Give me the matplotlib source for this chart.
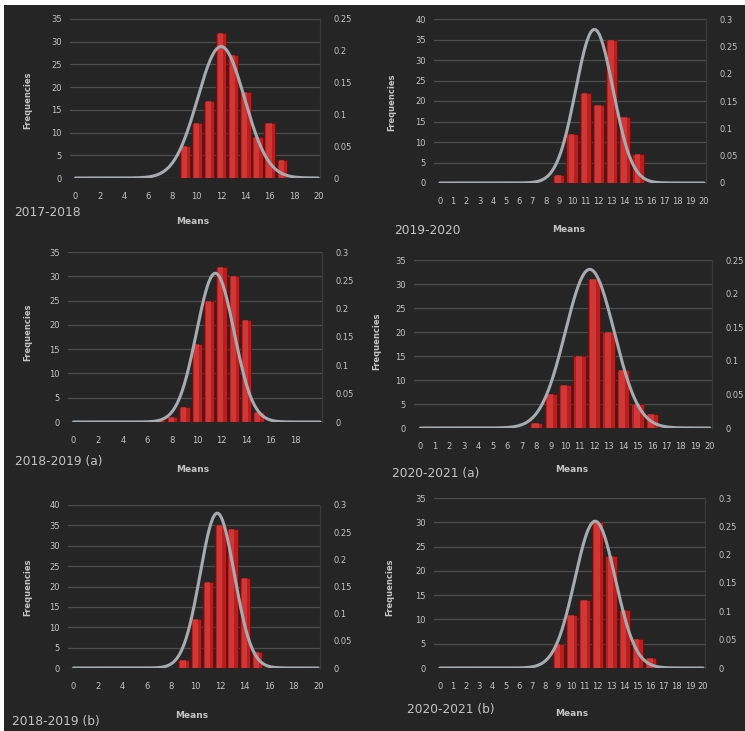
import numpy as np
import matplotlib
matplotlib.use("Agg")
import matplotlib.pyplot as plt
from matplotlib.patches import Rectangle

# ---- data ------------------------------------------------------------------
captions = ["2017-2018", "2019-2020", "2018-2019 (a)",
            "2020-2021 (a)", "2018-2019 (b)", "2020-2021 (b)"]

bins_1 = [9, 10, 11, 12, 13, 14, 15, 16, 17]
counts_1 = [7, 12, 17, 32, 27, 19, 9, 12, 4]

bins_2 = [9, 10, 11, 12, 13, 14, 15]
counts_2 = [2, 12, 22, 19, 35, 16, 7]

bins_3 = [7, 8, 9, 10, 11, 12, 13, 14, 15]
counts_3 = [0.5, 1, 3, 16, 25, 32, 30, 21, 2]

bins_4 = [8, 9, 10, 11, 12, 13, 14, 15, 16]
counts_4 = [1, 7, 9, 15, 31, 20, 12, 5, 3]

bins_5 = [9, 10, 11, 12, 13, 14, 15]
counts_5 = [2, 12, 21, 35, 34, 22, 4]

bins_6 = [9, 10, 11, 12, 13, 14, 15, 16]
counts_6 = [5, 11, 14, 30, 23, 12, 6, 2]

# fitted normal curve (mean, sd) of the means
fit_means = [12.0, 11.7, 11.5, 11.7, 11.75, 11.8]
fit_sds = [1.93, 1.42, 1.52, 1.69, 1.40, 1.54]

freq_max = [35, 40, 35, 35, 40, 35]
dens_max = [0.25, 0.3, 0.3, 0.25, 0.3, 0.3]
x_step = [2, 1, 2, 1, 2, 1]
x_last = [20, 20, 18, 20, 20, 20]

bins = [bins_1, bins_2, bins_3, bins_4, bins_5, bins_6]
counts = [counts_1, counts_2, counts_3, counts_4, counts_5, counts_6]

# ---- layout (pixels in the 745x731 picture) --------------------------------
W, H = 745, 731
BG = "#252525"
GRID = "#4d4d4d"
TXT = "#c4c4c4"
CURVE = "#a6abb0"

axes_px = [(70, 19, 320, 178), (434, 19, 706, 183),
           (68, 252, 322, 422), (414, 260, 712, 428),
           (68, 505, 320, 668), (434, 498, 705, 668)]
caption_px = [(14, 213), (394, 230), (15, 461), (392, 473), (12, 721), (407, 710)]
means_px = [(193, 222), (569, 230), (193, 469), (572, 470), (192, 715), (572, 713)]
freq_px = [(28, 100), (392, 102), (28, 332), (377, 341), (28, 587), (390, 587)]


def fx(x):
    return x / W


def fy(y):
    return 1 - y / H


def normal_pdf(x, mu, sd):
    return np.exp(-0.5 * ((x - mu) / sd) ** 2) / (sd * np.sqrt(2 * np.pi))


fig = plt.figure(figsize=(W / 100, H / 100), dpi=100, facecolor=BG)

# white scan border along the top and left edges
fig.patches.append(Rectangle((0, fy(5)), 1, 5 / H, transform=fig.transFigure,
                             facecolor="white", edgecolor="none", zorder=5))
fig.patches.append(Rectangle((0, 0), 4 / W, 1, transform=fig.transFigure,
                             facecolor="white", edgecolor="none", zorder=5))

for i in range(6):
    x0, y0, x1, y1 = axes_px[i]
    ax = fig.add_axes([fx(x0), fy(y1), fx(x1 - x0), (y1 - y0) / H])
    ax.set_facecolor(BG)
    ax2 = ax.twinx()

    # histogram bars with a lighter centre stripe
    ax.bar(bins[i], counts[i], width=0.85, color="#bb1d1d",
           edgecolor="#6a0a0a", linewidth=0.5, zorder=2)
    ax.bar(np.array(bins[i]) - 0.05, counts[i], width=0.42, color="#e35050",
           alpha=0.5, linewidth=0, zorder=2)

    xs = np.linspace(0, 20, 300)
    ax2.plot(xs, normal_pdf(xs, fit_means[i], fit_sds[i]), color=CURVE,
             lw=2.2, solid_capstyle="round", zorder=3)

    ax.set_xlim(-0.45, 20.15)
    ax.set_ylim(0, freq_max[i])
    ax2.set_ylim(0, dens_max[i])
    ax.set_xticks(np.arange(0, x_last[i] + 1, x_step[i]))
    ax.set_yticks(np.arange(0, freq_max[i] + 1, 5))
    dticks = np.round(np.arange(0, dens_max[i] + 0.001, 0.05), 2)
    ax2.set_yticks(dticks)
    ax2.set_yticklabels(["0" if t == 0 else f"{t:g}" for t in dticks])

    ax.yaxis.grid(True, color=GRID, lw=0.9)
    ax.set_axisbelow(True)
    for a in (ax, ax2):
        for s in ("top", "left", "bottom"):
            a.spines[s].set_visible(False)
        a.spines["right"].set_color("#3a3a3a")
        a.tick_params(length=0, colors=TXT, labelsize=6)
    ax.tick_params(axis="x", pad=10)
    ax.tick_params(axis="y", pad=6)
    ax2.tick_params(axis="y", pad=10)
    ax2.set_zorder(ax.get_zorder() + 1)
    ax2.patch.set_visible(False)

    cx, cy = caption_px[i]
    fig.text(fx(cx), fy(cy), captions[i], color=TXT, fontsize=8.8,
             ha="left", va="center")
    mx, my = means_px[i]
    fig.text(fx(mx), fy(my), "Means", color=TXT, fontsize=6.5,
             fontweight="bold", ha="center", va="center")
    qx, qy = freq_px[i]
    fig.text(fx(qx), fy(qy), "Frequencies", color=TXT, fontsize=6,
             fontweight="bold", rotation=90, ha="center", va="center")

fig.savefig("out.png", dpi=100, facecolor=BG)
